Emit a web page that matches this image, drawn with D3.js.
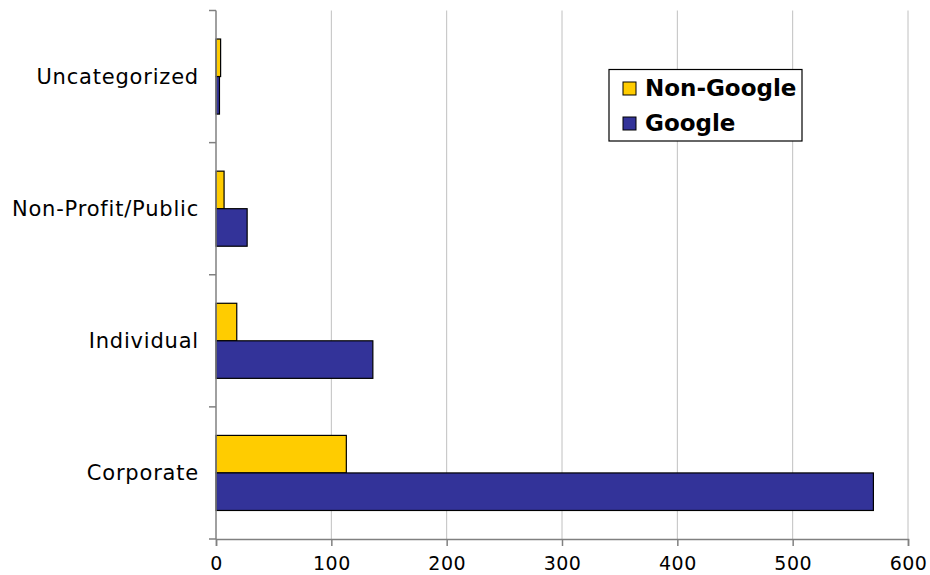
<!DOCTYPE html>
<html lang="en">

<head>
  <meta charset="UTF-8">
  <title>Non-Google vs Google</title>
  <script src="https://d3js.org/d3.v7.min.js"></script>
  <style>
    body {
      margin: 0;
      background: #fff;
      font-family: "DejaVu Sans", Verdana, sans-serif;
    }

    .grid line {
      stroke: #c0c0c0;
      stroke-width: 1px;
    }

    .axis path,
    .axis line {
      stroke: #808080;
      stroke-width: 1.5px;
    }

    .axis text {
      font-size: 19px;
      letter-spacing: 0.5px;
      fill: #000;
    }

    .cat-label {
      font-size: 21px;
      letter-spacing: 0.8px;
      fill: #000;
    }

    .bar {
      stroke: #000;
      stroke-width: 1.2px;
    }

    .legend text {
      font-size: 23px;
      font-weight: bold;
    }
  </style>
</head>

<body>
  <div id="chart"></div>
</body>
<script>
  // data
  var categories = ["Uncategorized", "Non-Profit/Public", "Individual", "Corporate"];
  var series = ["Non-Google", "Google"];
  var nonGoogle = [4, 7, 18, 113];
  var google = [3, 27, 136, 570];
  var tickValues = [0, 100, 200, 300, 400, 500, 600];
  var colors = ["#ffcc00", "#333399"];

  var values = [nonGoogle, google];

  var margin = { top: 10.5, right: 22, bottom: 36, left: 216 },
    width = 930 - margin.left - margin.right,
    height = 575 - margin.top - margin.bottom;

  var svg = d3.select("#chart").append("svg")
    .attr("width", 930)
    .attr("height", 575)
    .append("g")
    .attr("transform", "translate(" + margin.left + "," + margin.top + ")");

  var x = d3.scaleLinear().domain([0, 600]).range([0, width]);

  var y = d3.scaleBand().domain(categories).range([0, height]).padding(0);

  // two bars inside each category band
  var ySub = d3.scaleBand().domain(series).range([0, y.bandwidth()])
    .paddingInner(0).paddingOuter(0.76);

  // vertical gridlines
  svg.append("g")
    .attr("class", "grid")
    .selectAll("line")
    .data(tickValues.slice(1))
    .enter().append("line")
    .attr("x1", function (d) { return x(d); })
    .attr("x2", function (d) { return x(d); })
    .attr("y1", 0)
    .attr("y2", height);

  // bars
  var groups = svg.selectAll("g.cat")
    .data(categories)
    .enter().append("g")
    .attr("class", "cat")
    .attr("transform", function (d) { return "translate(0," + y(d) + ")"; });

  groups.selectAll("rect")
    .data(function (d, i) {
      return series.map(function (s, j) { return { s: s, v: values[j][i], j: j }; });
    })
    .enter().append("rect")
    .attr("class", "bar")
    .attr("x", x(0))
    .attr("y", function (d) { return ySub(d.s); })
    .attr("width", function (d) { return x(d.v) - x(0); })
    .attr("height", ySub.bandwidth())
    .attr("fill", function (d) { return colors[d.j]; });

  // x axis
  var xAxis = svg.append("g")
    .attr("class", "axis")
    .attr("transform", "translate(0," + height + ")")
    .call(d3.axisBottom(x).tickValues(tickValues).tickSizeOuter(0).tickSize(7).tickPadding(11));
  xAxis.selectAll("text").style("font-family", "DejaVu Sans, Verdana, sans-serif");

  // y axis: line plus ticks at band boundaries
  var yAxis = svg.append("g").attr("class", "axis");
  yAxis.append("line")
    .attr("x1", 0).attr("x2", 0)
    .attr("y1", 0).attr("y2", height);
  var bounds = categories.map(function (c) { return y(c); }).concat([height]);
  yAxis.selectAll("line.tick")
    .data(bounds)
    .enter().append("line")
    .attr("class", "tick")
    .attr("x1", -7).attr("x2", 0)
    .attr("y1", function (d) { return d; })
    .attr("y2", function (d) { return d; });

  svg.selectAll("text.cat-label")
    .data(categories)
    .enter().append("text")
    .attr("class", "cat-label")
    .attr("x", -17)
    .attr("y", function (d) { return y(d) + y.bandwidth() / 2; })
    .attr("dy", "0.36em")
    .attr("text-anchor", "end")
    .text(function (d) { return d; });

  // legend
  var legend = svg.append("g")
    .attr("class", "legend")
    .attr("transform", "translate(" + (609 - margin.left) + "," + (69.5 - margin.top) + ")");

  legend.append("rect")
    .attr("width", 193)
    .attr("height", 71.5)
    .attr("fill", "#fff")
    .attr("stroke", "#000")
    .attr("stroke-width", 1.2);

  series.forEach(function (s, i) {
    var row = legend.append("g").attr("transform", "translate(14," + (12.5 + i * 35) + ")");
    row.append("rect")
      .attr("width", 13)
      .attr("height", 13)
      .attr("fill", colors[i])
      .attr("stroke", "#000")
      .attr("stroke-width", 1);
    row.append("text")
      .attr("x", 22)
      .attr("y", 13.5)
      .text(s);
  });
</script>

</html>
